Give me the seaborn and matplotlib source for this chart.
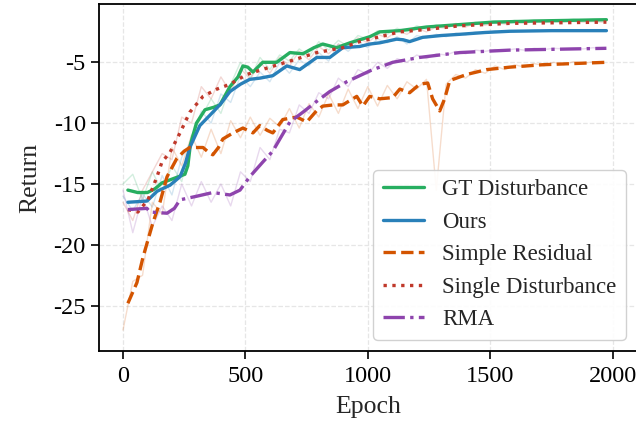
import numpy as np
import pandas as pd
import seaborn as sns
import matplotlib
matplotlib.use('Agg')
import matplotlib.pyplot as plt

# smoothed curves (epoch, return)
gt_x = [20, 60, 100, 130, 160, 200, 253, 265, 275, 300, 335, 370, 396, 437, 470, 490, 510, 531, 571, 628, 682, 735, 780, 816, 873, 927, 1008, 1049, 1131, 1240, 1376, 1510, 1700, 1975]
gt_y = [-15.5, -15.7, -15.7, -15.4, -14.9, -14.6, -14.2, -13.5, -11.8, -10.0, -8.9, -8.7, -8.5, -7.0, -6.2, -5.3, -5.4, -5.8, -5.0, -5.0, -4.2, -4.3, -3.8, -3.5, -3.8, -3.4, -2.9, -2.5, -2.4, -2.1, -1.9, -1.7, -1.6, -1.5]

ours_x = [20, 98, 139, 192, 233, 255, 273, 314, 367, 400, 437, 480, 518, 560, 612, 669, 722, 792, 845, 898, 967, 1008, 1049, 1118, 1145, 1171, 1224, 1300, 1376, 1480, 1580, 1750, 1975]
ours_y = [-16.5, -16.4, -15.6, -15.1, -14.4, -13.3, -12.0, -10.2, -9.1, -8.4, -7.4, -6.8, -6.4, -6.3, -6.1, -5.3, -5.6, -4.6, -4.6, -3.8, -3.7, -3.5, -3.4, -3.1, -3.15, -3.3, -2.95, -2.8, -2.7, -2.55, -2.45, -2.4, -2.4]

res_x = [20, 57, 82, 122, 151, 180, 220, 250, 273, 327, 350, 367, 390, 408, 450, 490, 531, 559, 590, 612, 653, 710, 751, 790, 816, 860, 898, 955, 980, 1008, 1049, 1102, 1131, 1171, 1212, 1245, 1265, 1294, 1314, 1335, 1404, 1486, 1580, 1714, 1975]
res_y = [-24.8, -23.1, -21.0, -18.2, -16.5, -14.4, -12.9, -12.3, -12.0, -12.0, -12.4, -12.6, -12.0, -11.3, -10.8, -10.4, -10.8, -10.2, -10.6, -10.8, -9.7, -9.5, -9.9, -9.0, -8.6, -8.5, -8.5, -7.8, -8.6, -7.8, -8.0, -7.9, -7.2, -7.5, -6.8, -6.7, -8.0, -9.0, -8.0, -6.5, -6.0, -5.6, -5.4, -5.2, -5.0]

single_x = [20, 61, 102, 139, 159, 192, 233, 273, 327, 384, 437, 506, 600, 682, 792, 898, 967, 1049, 1131, 1240, 1376, 1580, 1975]
single_y = [-17.1, -17.3, -16.3, -14.4, -13.2, -12.4, -10.8, -9.1, -7.8, -7.2, -6.8, -6.0, -5.4, -4.9, -4.2, -3.8, -3.3, -2.9, -2.5, -2.3, -2.0, -1.8, -1.7]

rma_x = [20, 98, 110, 180, 210, 233, 302, 367, 437, 478, 518, 571, 612, 641, 682, 735, 792, 845, 914, 967, 1020, 1049, 1102, 1212, 1376, 1580, 1975]
rma_y = [-17.1, -17.0, -17.3, -17.4, -17.0, -16.3, -16.0, -15.7, -15.9, -15.5, -14.4, -13.2, -12.3, -11.3, -9.9, -9.1, -8.2, -7.4, -6.6, -6.1, -5.6, -5.4, -5.0, -4.6, -4.2, -4.0, -3.85]

# raw (unsmoothed) returns, every 40 epochs
raw_x = list(range(0, 2000, 40))
gt_raw = [-15.0, -14.2, -16.3, -14.0, -15.6, -13.5, -14.8, -11.0, -9.5, -8.0, -9.2, -6.8, -5.0, -6.3, -4.6, -5.6, -4.4, -4.9, -3.9, -4.5, -3.3, -4.0, -3.2, -3.7, -2.8, -3.1, -2.4, -2.7, -2.2, -2.5, -2.0, -2.3, -1.9, -2.1, -1.8, -2.0, -1.7, -1.8, -1.6, -1.7, -1.55, -1.65, -1.5, -1.6, -1.5, -1.55, -1.45, -1.55, -1.45, -1.5]
ours_raw = [-16.0, -17.2, -15.8, -16.9, -14.3, -15.9, -12.8, -11.5, -9.0, -10.0, -7.6, -8.3, -6.1, -7.0, -5.8, -6.6, -5.0, -5.9, -4.8, -5.3, -4.2, -4.9, -3.5, -4.1, -3.3, -3.8, -3.1, -3.4, -2.9, -3.5, -2.8, -3.0, -2.7, -2.9, -2.6, -2.75, -2.5, -2.6, -2.4, -2.5, -2.4, -2.45, -2.35, -2.45, -2.35, -2.4, -2.35, -2.4, -2.35, -2.4]
res_raw = [-27.0, -23.0, -22.5, -16.5, -17.5, -12.0, -13.5, -11.0, -12.8, -10.5, -12.5, -9.8, -11.2, -9.5, -11.0, -9.6, -10.3, -8.8, -10.4, -8.4, -9.5, -7.6, -9.2, -7.2, -8.8, -7.0, -8.6, -6.9, -8.0, -6.6, -7.2, -6.4, -15.5, -6.8, -6.0, -6.3, -5.6, -5.9, -5.3, -5.6, -5.2, -5.4, -5.1, -5.3, -5.0, -5.2, -4.95, -5.1, -4.95, -5.0]
single_raw = [-16.5, -18.0, -15.5, -14.0, -12.5, -13.0, -9.5, -10.0, -7.0, -8.0, -6.2, -7.5, -5.5, -6.4, -5.0, -5.9, -4.6, -5.3, -4.1, -4.8, -3.7, -4.3, -3.5, -3.9, -3.0, -3.4, -2.7, -3.0, -2.4, -2.7, -2.2, -2.5, -2.1, -2.2, -1.9, -2.1, -1.8, -1.95, -1.75, -1.85, -1.7, -1.8, -1.65, -1.75, -1.65, -1.7, -1.65, -1.7, -1.65, -1.7]
rma_raw = [-15.5, -19.0, -16.0, -18.5, -16.8, -18.0, -15.0, -16.8, -14.8, -16.5, -15.0, -16.8, -14.0, -14.8, -12.0, -13.0, -10.5, -10.8, -8.5, -9.2, -7.5, -8.0, -6.3, -7.0, -5.6, -6.0, -5.0, -5.5, -4.7, -5.0, -4.4, -4.7, -4.3, -4.4, -4.1, -4.3, -4.0, -4.1, -3.95, -4.05, -3.9, -4.0, -3.85, -3.95, -3.85, -3.9, -3.85, -3.9, -3.8, -3.85]

names = ['GT Disturbance', 'Ours', 'Simple Residual', 'Single Disturbance', 'RMA']
colors = ['#27ae60', '#2980b9', '#d35400', '#c0392b', '#8e44ad']
styles = ['-', '-', '--', ':', '-.']
smooth = [(gt_x, gt_y), (ours_x, ours_y), (res_x, res_y), (single_x, single_y), (rma_x, rma_y)]
raw = [gt_raw, ours_raw, res_raw, single_raw, rma_raw]

sns.set_style('ticks')
plt.rcParams['font.family'] = ['Liberation Serif', 'DejaVu Serif']
plt.rcParams['axes.unicode_minus'] = False

fig = plt.figure(figsize=(6.36, 4.28), dpi=100)
ax = fig.add_axes([99 / 636, 1 - 351 / 428, 538 / 636, 347 / 428])

for name, c, r in zip(names, colors, raw):
    sns.lineplot(x=raw_x, y=r, ax=ax, color=c, lw=1.0, alpha=0.2, legend=False, estimator=None)

for name, c, ls, (xs, ys) in zip(names, colors, styles, smooth):
    sns.lineplot(x=xs, y=ys, ax=ax, color=c, linestyle=ls, lw=2.4, label=name, estimator=None)

ax.set_xlim(-98, 2100)
ax.set_ylim(-28.72, -0.21)
ax.set_xticks([0, 500, 1000, 1500, 2000])
ax.set_yticks([-25, -20, -15, -10, -5])
ax.grid(True, linestyle='--', color='#e6e6e6', lw=0.9)
ax.tick_params(labelsize=17.5, length=6, width=1.2, colors='black')
ax.tick_params(axis='x', pad=5)
for s in ax.spines.values():
    s.set_linewidth(1.3)
    s.set_color('black')
ax.set_xlabel('Epoch', fontsize=18.5, labelpad=6)
ax.set_ylabel('Return', fontsize=18.5, labelpad=9)

leg = ax.legend(loc='lower right', fontsize=16.5, handlelength=1.8, frameon=True, fancybox=True,
                edgecolor='#cccccc', framealpha=0.9)

fig.savefig('out.png', dpi=100)
